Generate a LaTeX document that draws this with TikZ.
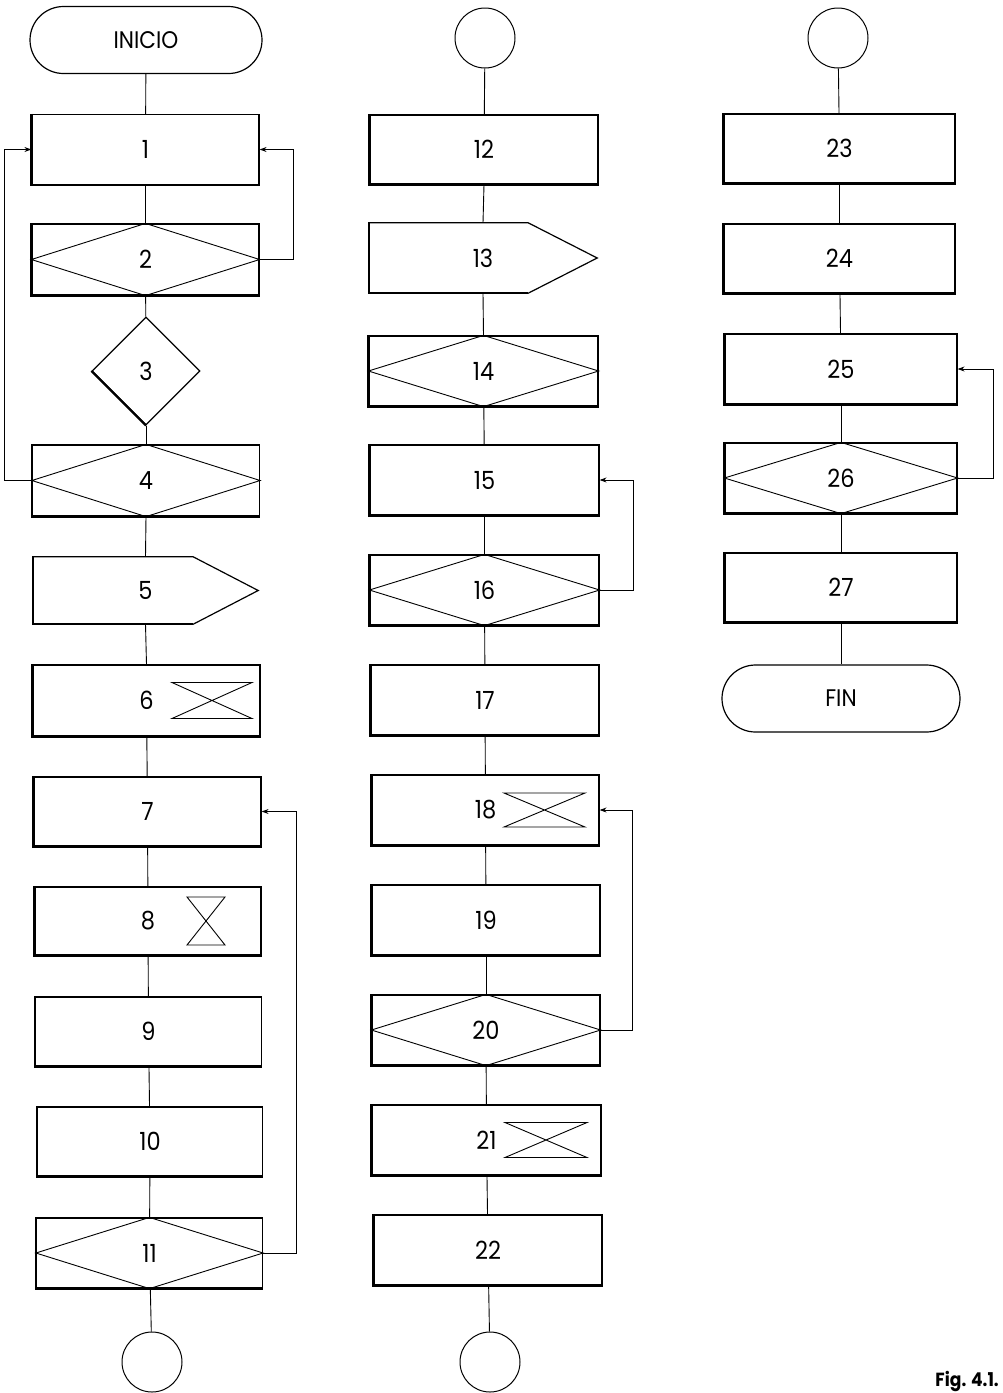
\documentclass[tikz,border=0pt]{standalone}
\usepackage{fontspec}
\setmainfont{Poppins}[FakeStretch=0.9]
\usetikzlibrary{shapes.geometric,shapes.misc,arrows.meta,calc}
\tikzset{
  box/.style={draw, line width=1.2pt, minimum width=227pt, minimum height=70pt, inner sep=0pt, font=\fontsize{25}{30}\selectfont},
  nobox/.style={draw=none, minimum width=227pt, minimum height=70pt, inner sep=0pt, font=\fontsize{25}{30}\selectfont},
  term/.style={draw, line width=1.2pt, rounded rectangle, minimum width=232pt, minimum height=67pt, inner sep=0pt, font=\fontsize{24}{28}\selectfont},
  conn/.style={draw, circle, line width=1pt, minimum size=60pt, inner sep=0pt},
  dec/.style={draw, diamond, line width=1.2pt, minimum width=108pt, minimum height=108pt, inner sep=0pt, font=\fontsize{25}{30}\selectfont},
  link/.style={line width=0.9pt},
  back/.style={line width=0.9pt, -{Stealth[length=7pt,width=5pt]}},
  inner/.style={line width=0.9pt},
  shade/.style={line width=2.2pt},
}
\newcommand{\shadebox}[1]{\draw[shade] (#1.north west) -- (#1.south west) -- (#1.south east);}
\newcommand{\rhomb}[1]{\draw[inner] (#1.west) -- (#1.north) -- (#1.east) -- (#1.south) -- cycle;}
\begin{document}
\begin{tikzpicture}[x=1pt,y=-1pt]
\useasboundingbox (0,0) rectangle (1002,1393);
% ---------- column 1
\node[term] (ini) at (146,40) {INICIO};
\node[box] (b1) at (145.5,149.5) {1};
\node[box, minimum height=71pt] (b2) at (145.5,259.5) {2};
\node[dec] (b3) at (146,371) {3};
\node[box, minimum height=71pt] (b4) at (146,480.5) {4};
\node[nobox, minimum width=225pt, minimum height=67pt] (b5) at (145.5,590.5) {5};
\node[box, minimum height=71pt] (b6) at (146.5,700.5) {6};
\node[box, minimum height=69pt] (b7) at (147.5,811.5) {7};
\node[box, minimum width=226pt, minimum height=68pt] (b8) at (148,921) {8};
\node[box, minimum width=226pt, minimum height=69pt] (b9) at (148.5,1031.5) {9};
\node[box, minimum width=225pt, minimum height=69pt] (b10) at (150,1141.5) {10};
\node[box, minimum width=226pt] (b11) at (149.5,1253) {11};
\node[conn] (c1b) at (152,1362) {};
% decorations column 1
\rhomb{b2}
\rhomb{b4}
\rhomb{b11}
\draw[line width=1.2pt] (b5.north west) -- ($(b5.north east)+(-65,0)$) -- (b5.east) -- ($(b5.south east)+(-65,0)$) -- (b5.south west) -- cycle;
\draw[shade] (b5.north west) -- (b5.south west) -- ($(b5.south east)+(-65,0)$);
\draw[shade] (b3.west) -- (b3.south);
\draw[inner] ($(b6.center)+(25.5,-18)$) -- ($(b6.center)+(105.5,-18)$) -- ($(b6.center)+(25.5,18)$) -- ($(b6.center)+(105.5,18)$) -- cycle;
\draw[inner] ($(b8.center)+(39,-24)$) -- ($(b8.center)+(77,-24)$) -- ($(b8.center)+(39,24)$) -- ($(b8.center)+(77,24)$) -- cycle;
\foreach \n in {b1,b2,b4,b6,b7,b8,b9,b10,b11} {\shadebox{\n}}
% links column 1
\draw[link] (ini) -- (b1);
\draw[link] (b1) -- (b2);
\draw[link] (b2) -- (b3);
\draw[link] (b3) -- (b4);
\draw[link] (b4.south) -- (b5.north);
\draw[link] (b5.south) -- (b6.north);
\draw[link] (b6) -- (b7);
\draw[link] (b7) -- (b8);
\draw[link] (b8) -- (b9);
\draw[link] (b9) -- (b10);
\draw[link] (b10) -- (b11);
\draw[link] (b11) -- (c1b);
\draw[back] (b2.east) -- ++(34,0) |- (b1.east);
\draw[back] (b4.west) -- ++(-27,0) |- (b1.west);
\draw[back] (b11.east) -- ++(33,0) |- (b7.east);
% ---------- column 2
\node[conn] (c2t) at (485,38) {};
\node[box, minimum width=228pt, minimum height=69pt] (b12) at (484,149.5) {12};
\node[nobox, minimum width=228pt] (b13) at (483,258) {13};
\node[box, minimum width=229pt] (b14) at (483.5,371) {14};
\node[box, minimum width=229pt] (b15) at (484.5,480) {15};
\node[box, minimum width=229pt] (b16) at (484.5,590) {16};
\node[box, minimum width=228pt] (b17) at (485,700) {17};
\node[box, minimum width=227pt] (b18) at (485.5,810) {18};
\node[box, minimum width=228pt] (b19) at (486,920) {19};
\node[box, minimum width=228pt] (b20) at (486,1030) {20};
\node[box, minimum width=229pt] (b21) at (486.5,1140) {21};
\node[box, minimum width=228pt] (b22) at (488,1250) {22};
\node[conn] (c2b) at (490,1362) {};
% decorations column 2
\rhomb{b14}
\rhomb{b16}
\rhomb{b20}
\draw[line width=1.2pt] (b13.north west) -- ($(b13.north east)+(-69,0)$) -- (b13.east) -- ($(b13.south east)+(-69,0)$) -- (b13.south west) -- cycle;
\draw[shade] (b13.north west) -- (b13.south west) -- ($(b13.south east)+(-69,0)$);
\draw[inner] ($(b18.center)+(18.5,-17)$) -- ($(b18.center)+(99.5,-17)$) -- ($(b18.center)+(18.5,17)$) -- ($(b18.center)+(99.5,17)$) -- cycle;
\draw[inner] ($(b21.center)+(18.5,-17.5)$) -- ($(b21.center)+(100.5,-17.5)$) -- ($(b21.center)+(18.5,17.5)$) -- ($(b21.center)+(100.5,17.5)$) -- cycle;
\foreach \n in {b12,b14,b15,b16,b17,b18,b19,b20,b21,b22} {\shadebox{\n}}
% links column 2
\draw[link] (c2t) -- (b12);
\draw[link] (b12.south) -- (b13.north);
\draw[link] (b13.south) -- (b14.north);
\draw[link] (b14) -- (b15);
\draw[link] (b15) -- (b16);
\draw[link] (b16) -- (b17);
\draw[link] (b17) -- (b18);
\draw[link] (b18) -- (b19);
\draw[link] (b19) -- (b20);
\draw[link] (b20) -- (b21);
\draw[link] (b21) -- (b22);
\draw[link] (b22) -- (c2b);
\draw[back] (b16.east) -- ++(34,0) |- (b15.east);
\draw[back] (b20.east) -- ++(32,0) |- (b18.east);
% ---------- column 3
\node[conn] (c3t) at (838,38) {};
\node[box, minimum width=231pt, minimum height=69pt] (b23) at (839.5,148.5) {23};
\node[box, minimum width=231pt, minimum height=69pt] (b24) at (839.5,258.5) {24};
\node[box, minimum width=232pt] (b25) at (841,369) {25};
\node[box, minimum width=232pt] (b26) at (841,478) {26};
\node[box, minimum width=232pt, minimum height=69pt] (b27) at (841,587.5) {27};
\node[term, minimum width=238pt] (fin) at (841,698.5) {FIN};
\rhomb{b26}
\foreach \n in {b23,b24,b25,b26,b27} {\shadebox{\n}}
\draw[link] (c3t) -- (b23);
\draw[link] (b23) -- (b24);
\draw[link] (b24) -- (b25);
\draw[link] (b25) -- (b26);
\draw[link] (b26) -- (b27);
\draw[link] (b27) -- (fin);
\draw[back] (b26.east) -- ++(36,0) |- (b25.east);
% caption
\node[anchor=east, inner sep=0pt, font=\bfseries\fontsize{19}{22}\selectfont] (cap) at (999,1381) {Fig. 4.1.};
\end{tikzpicture}
\end{document}
